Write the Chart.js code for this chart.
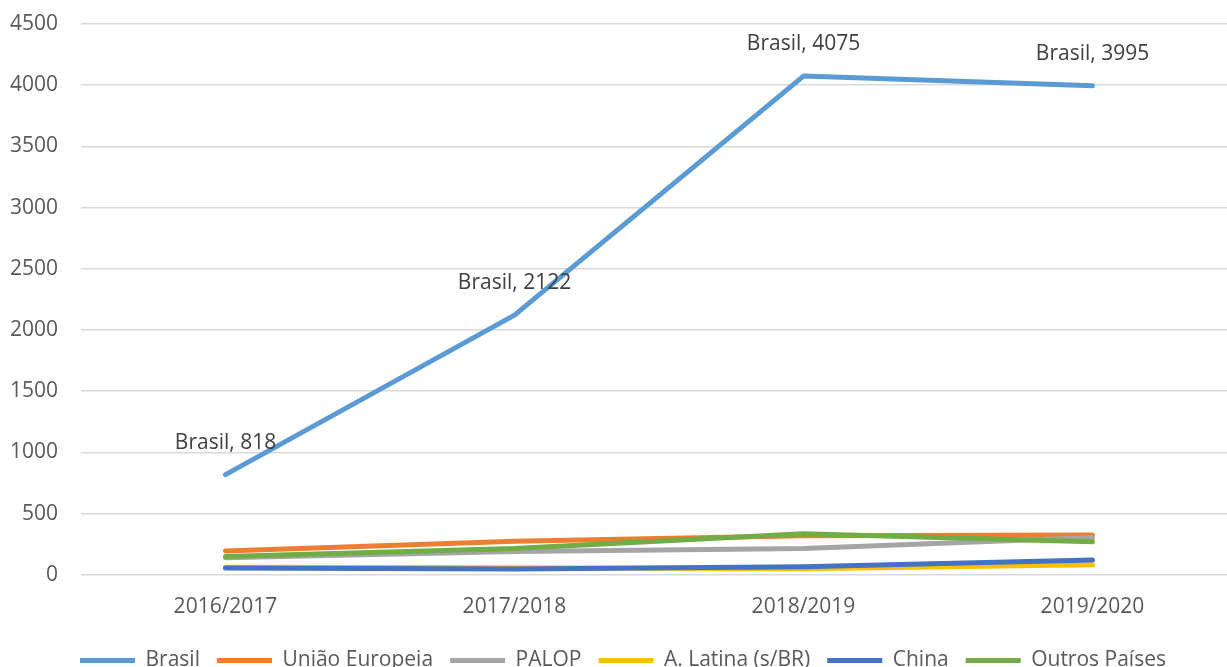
<!DOCTYPE html>
<html>
<head>
<meta charset="utf-8">
<script src="https://cdn.jsdelivr.net/npm/chart.js@4/dist/chart.umd.min.js"></script>
<style>
    html, body { margin: 0; padding: 0; background: #fff; overflow: hidden; }
    canvas { display: block; }
</style>
</head>
<body>
<canvas id="chart" width="1240" height="681"></canvas>
<script>
// Estudantes por origem, ano letivo
const categories = ["2016/2017", "2017/2018", "2018/2019", "2019/2020"];
const brasil = [818, 2122, 4075, 3995];
const uniaoEuropeia = [195, 275, 320, 325];
const palop = [140, 190, 215, 305];
const aLatina = [62, 58, 50, 82];
const china = [55, 48, 65, 120];
const outrosPaises = [150, 215, 335, 270];
const yTicks = [0, 500, 1000, 1500, 2000, 2500, 3000, 3500, 4000, 4500];

const series = [
    { label: "Brasil", data: brasil, color: "#5B9BD5" },
    { label: "União Europeia", data: uniaoEuropeia, color: "#ED7D31" },
    { label: "PALOP", data: palop, color: "#A5A5A5" },
    { label: "A. Latina (s/BR)", data: aLatina, color: "#FFC000" },
    { label: "China", data: china, color: "#4472C4" },
    { label: "Outros Países", data: outrosPaises, color: "#70AD47" }
];

const FONT = "'Open Sans', sans-serif";

document.addEventListener("DOMContentLoaded", function () {

    // "Brasil, N" labels above the Brasil line
    const brasilLabels = {
        id: "brasilLabels",
        afterDatasetsDraw(chart) {
            const ctx = chart.ctx;
            const meta = chart.getDatasetMeta(0);
            ctx.save();
            ctx.font = "21px " + FONT;
            ctx.fillStyle = "#404040";
            ctx.textAlign = "center";
            ctx.textBaseline = "middle";
            meta.data.forEach(function (pt, i) {
                ctx.fillText("Brasil, " + brasil[i], pt.x, pt.y - 32);
            });
            ctx.restore();
        }
    };

    new Chart(document.getElementById("chart").getContext("2d"), {
        type: "line",
        data: {
            labels: categories,
            datasets: series.map(function (s, i) {
                return {
                    label: s.label,
                    data: s.data,
                    borderColor: s.color,
                    backgroundColor: s.color,
                    borderWidth: 5,
                    borderCapStyle: "round",
                    borderJoinStyle: "round",
                    pointRadius: 0,
                    tension: 0,
                    order: series.length - i
                };
            })
        },
        options: {
            responsive: false,
            animation: false,
            layout: { padding: { top: 0, right: 3, left: 9, bottom: 0 } },
            scales: {
                x: {
                    offset: true,
                    grid: { display: false },
                    border: { display: false },
                    ticks: { color: "#595959", font: { family: FONT, size: 21 }, padding: 12 },
                    afterFit(scale) { scale.height += 1; }
                },
                y: {
                    min: 0,
                    max: 4500,
                    afterBuildTicks(axis) {
                        axis.ticks = yTicks.map(function (v) { return { value: v }; });
                    },
                    afterFit(scale) { scale.width = 72; },
                    grid: { color: "#d9d9d9", lineWidth: 1.5, drawTicks: false },
                    border: { display: false },
                    ticks: {
                        color: "#595959",
                        font: { family: FONT, size: 21, lineHeight: 0.1 },
                        padding: 23,
                        callback: function (v) { return String(v); }
                    }
                }
            },
            plugins: {
                tooltip: { enabled: false },
                legend: {
                    position: "bottom",
                    labels: {
                        boxWidth: 55,
                        boxHeight: 5,
                        padding: 17,
                        color: "#595959",
                        font: { family: FONT, size: 21 },
                        generateLabels(chart) {
                            return chart.data.datasets.map(function (ds, i) {
                                return {
                                    text: ds.label,
                                    fillStyle: ds.borderColor,
                                    strokeStyle: ds.borderColor,
                                    lineWidth: 0,
                                    fontColor: "#595959",
                                    datasetIndex: i
                                };
                            });
                        }
                    }
                }
            }
        },
        plugins: [brasilLabels]
    });

});
</script>
</body>
</html>
